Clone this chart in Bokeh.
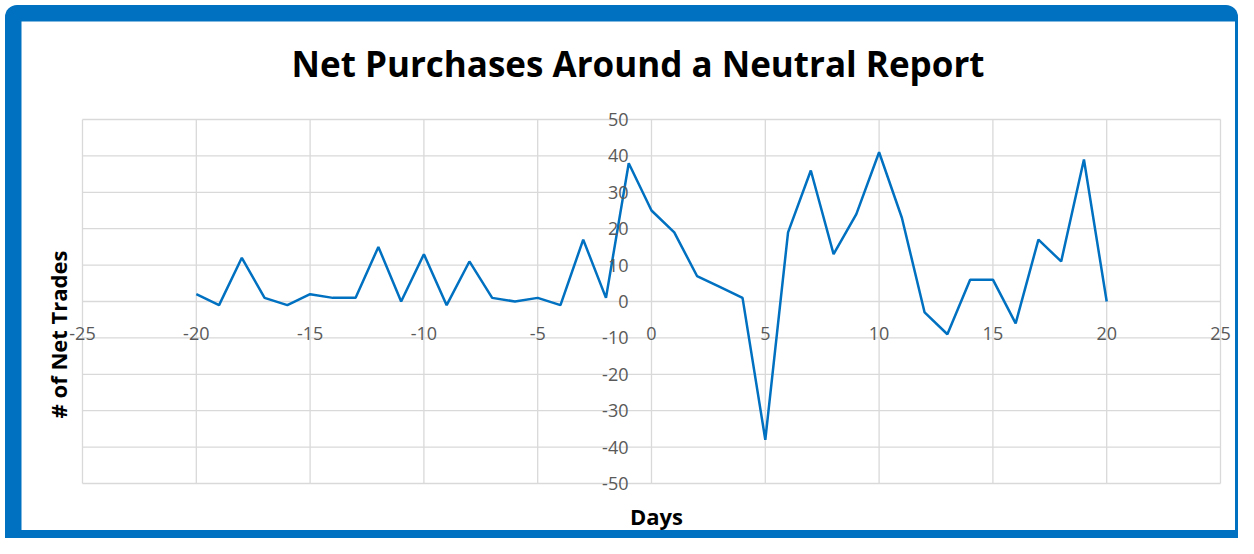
import math
from bokeh.plotting import figure
from bokeh.models import Range1d, Label, LabelSet, ColumnDataSource
from bokeh.core.properties import value
from bokeh.layouts import column
from bokeh.embed import file_html
from bokeh.resources import INLINE

days = list(range(-20, 21))
net_trades = [2, -1, 12, 1, -1, 2, 1, 1, 15, 0, 13, -1, 11, 1, 0, 1, -1, 17, 1, 38,
              25, 19, 7, 4, 1, -38, 19, 36, 13, 24, 41, 23, -3, -9, 6, 6, -6, 17, 11, 39, 0]
x_ticks = [-25, -20, -15, -10, -5, 0, 5, 10, 15, 20, 25]
y_ticks = [-50, -40, -30, -20, -10, 0, 10, 20, 30, 40, 50]
x_tick_labels = [str(t) for t in x_ticks]
y_tick_labels = [str(t) for t in y_ticks]

FONT = "Open Sans"
GRID = "#d9d9d9"
BLUE = "#0070C0"
TICK_COLOR = "#595959"

# canvas geometry (pixels)
W, H = 1214, 509
PL, PR, PT, PB = 61, 1199, 98, 462  # plot-area box inside the canvas
XMIN, XMAX = x_ticks[0], x_ticks[-1]
YMIN, YMAX = y_ticks[0], y_ticks[-1]
SX = (PR - PL) / (XMAX - XMIN)
SY = (PB - PT) / (YMAX - YMIN)


def dx(px):
    return XMIN + (px - PL) / SX


def dy(py):
    return YMAX - (py - PT) / SY


p = figure(width=W, height=H, output_backend="svg", toolbar_location=None,
           x_range=Range1d(dx(0), dx(W)), y_range=Range1d(dy(H), dy(0)),
           x_axis_location=None, y_axis_location=None,
           min_border_left=0, min_border_right=0, min_border_top=0, min_border_bottom=0)
p.background_fill_color = "white"
p.border_fill_color = "white"
p.outline_line_color = None
p.grid.visible = False

# gridlines
p.segment(x0=x_ticks, x1=x_ticks, y0=[YMIN] * len(x_ticks), y1=[YMAX] * len(x_ticks),
          line_color=GRID, line_width=1.3)
p.segment(x0=[XMIN] * len(y_ticks), x1=[XMAX] * len(y_ticks), y0=y_ticks, y1=y_ticks,
          line_color=GRID, line_width=1.3)

p.line(days, net_trades, line_color=BLUE, line_width=2.5)

# tick labels along the axes crossing at (0, 0)
xsrc = ColumnDataSource(dict(x=x_ticks, y=[0 - 32 / SY] * len(x_ticks), t=x_tick_labels))
ysrc = ColumnDataSource(dict(x=[0 - 23 / SX] * len(y_ticks), y=y_ticks, t=y_tick_labels))
p.add_layout(LabelSet(x="x", y="y", text="t", source=xsrc,
                      text_align="center", text_baseline="middle",
                      text_font=value(FONT), text_font_size="18px", text_color=TICK_COLOR))
p.add_layout(LabelSet(x="x", y="y", text="t", source=ysrc,
                      text_align="right", text_baseline="middle",
                      text_font=value(FONT), text_font_size="18px", text_color=TICK_COLOR))

p.add_layout(Label(x=dx(616.5), y=dy(42), text="Net Purchases Around a Neutral Report",
                   text_align="center", text_baseline="middle", text_font=FONT,
                   text_font_size="35px", text_font_style="bold", text_color="black"))
p.add_layout(Label(x=dx(635), y=dy(494), text="Days",
                   text_align="center", text_baseline="middle", text_font=FONT,
                   text_font_size="22px", text_font_style="bold", text_color="black"))
p.add_layout(Label(x=dx(36), y=dy(313), angle=math.pi / 2, text="# of Net Trades",
                   text_align="center", text_baseline="middle", text_font=FONT,
                   text_font_size="22px", text_font_style="bold", text_color="black"))

inner = column(p, styles={"background-color": BLUE, "padding": "16px 3px 8px 16px",
                          "border-radius": "12px 12px 0 0"})
layout = column(inner, styles={"background-color": "white", "padding": "5px 0 0 5px"})

open("out.html", "w").write(file_html(layout, INLINE))
